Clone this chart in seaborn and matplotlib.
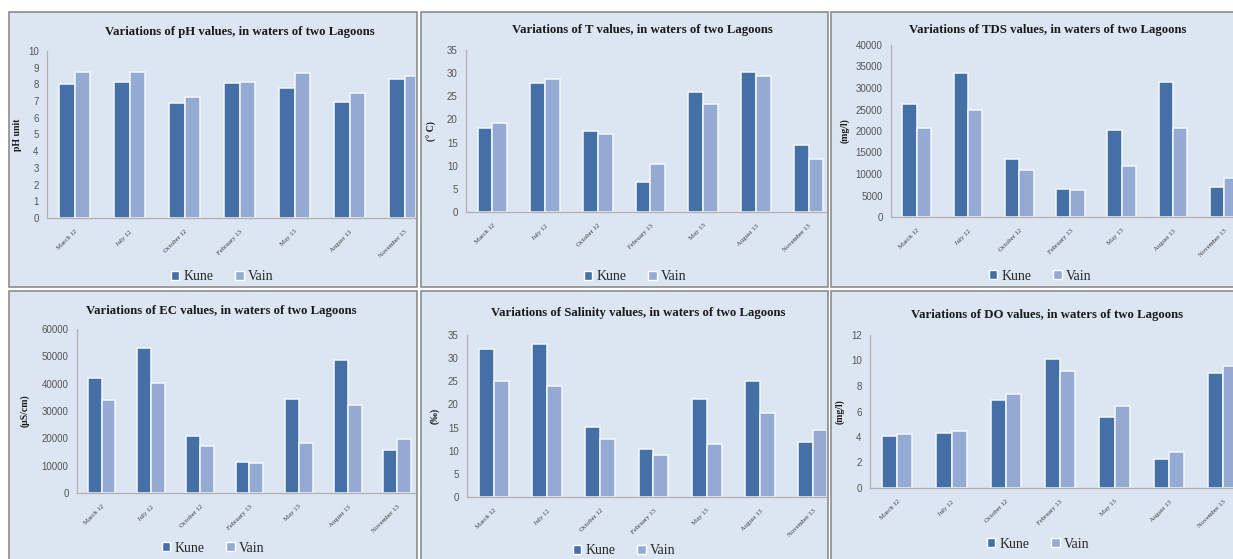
import numpy as np
import pandas as pd
import matplotlib
matplotlib.use("Agg")
import matplotlib.pyplot as plt
from matplotlib.patches import Rectangle, Patch
import seaborn as sns

sns.set_theme(style="white")
plt.rcParams['font.family'] = ['Liberation Serif', 'DejaVu Serif']

months = ["March 12", "July 12", "October 12", "February 13", "May 13", "August 13", "November 13"]
lagoons = ["Kune", "Vain"]

ph_kune = [8.05, 8.15, 6.9, 8.1, 7.8, 6.95, 8.3]
ph_vain = [8.75, 8.75, 7.25, 8.15, 8.7, 7.5, 8.5]
t_kune = [18.2, 27.8, 17.5, 6.5, 26.0, 30.2, 14.4]
t_vain = [19.3, 28.8, 16.8, 10.4, 23.3, 29.3, 11.5]
tds_kune = [26200, 33400, 13500, 6500, 20300, 31300, 6900]
tds_vain = [20700, 25000, 11000, 6300, 11800, 20600, 9000]
ec_kune = [42000, 53000, 21000, 11300, 34300, 48800, 15800]
ec_vain = [34000, 40300, 17300, 11100, 18400, 32200, 19700]
sal_kune = [32.0, 33.1, 15.1, 10.3, 21.2, 25.0, 11.8]
sal_vain = [25.0, 23.9, 12.5, 9.0, 11.4, 18.1, 14.4]
do_kune = [4.1, 4.35, 6.9, 10.15, 5.55, 2.3, 9.0]
do_vain = [4.2, 4.5, 7.4, 9.15, 6.45, 2.85, 9.6]

titles = ["Variations of pH values, in waters of two Lagoons",
          "Variations of T values, in waters of two Lagoons",
          "Variations of TDS values, in waters of two Lagoons",
          "Variations of EC values, in waters of two Lagoons",
          "Variations of Salinity values, in waters of two Lagoons",
          "Variations of DO values, in waters of two Lagoons"]
ylabels = ["pH unit", "(° C)", "(mg/l)", "(µS/cm)", "(‰)", "(mg/l)"]
yticks = [np.arange(0, 11, 1), np.arange(0, 36, 5), np.arange(0, 40001, 5000),
          np.arange(0, 60001, 10000), np.arange(0, 36, 5), np.arange(0, 13, 2)]
series = [(ph_kune, ph_vain), (t_kune, t_vain), (tds_kune, tds_vain),
          (ec_kune, ec_vain), (sal_kune, sal_vain), (do_kune, do_vain)]

W, H = 1233, 559
fig = plt.figure(figsize=(W / 100, H / 100), dpi=100)
fig.patch.set_facecolor("white")

BG = "#dce6f2"
KUNE = "#4470a5"
VAIN = "#94aad2"

# panel rectangles (pixel): x0, y0, x1, y1
panels = [(9, 12, 417, 287), (421, 12, 828, 287), (831, 12, 1240, 287),
          (9, 291, 417, 570), (421, 291, 828, 570), (831, 291, 1240, 570)]
# axes (pixel): left, top, right, zero-line y
axes_px = [(47, 51, 415, 218), (466, 50, 826, 212), (891, 45, 1233, 217),
           (77, 329, 415, 493), (467, 335, 826, 497), (870, 335, 1233, 488)]
xright = [6.19, 6.33, 6.17, 6.36, 6.24, 6.18]
title_xy = [(240, 32), (642, 30), (1048, 30), (221, 311), (638, 313), (1047, 315)]
ylabel_x = [17, 432, 845, 25, 435, 840]
legend_xy = [(222, 277), (635, 277), (1040, 276), (213, 548), (624, 551), (1038, 544)]

for i in range(6):
    x0, y0, x1, y1 = panels[i]
    fig.patches.append(Rectangle((x0 / W, 1 - y1 / H), (x1 - x0) / W, (y1 - y0) / H,
                                 transform=fig.transFigure, facecolor=BG,
                                 edgecolor="#8c8c8c", linewidth=1.2, zorder=-5))
    l, t, r, b = axes_px[i]
    ax = fig.add_axes([l / W, 1 - b / H, (r - l) / W, (b - t) / H])
    ax.set_facecolor("none")
    kune, vain = series[i]
    df = pd.DataFrame({"Month": months * 2,
                       "Lagoon": [lagoons[0]] * 7 + [lagoons[1]] * 7,
                       "Value": list(kune) + list(vain)})
    sns.barplot(data=df, x="Month", y="Value", hue="Lagoon", order=months,
                hue_order=lagoons, palette=[KUNE, VAIN], width=0.56,
                edgecolor="#f4f7fb", linewidth=1.1, saturation=1, ax=ax, legend=False)
    ax.set_xlim(-0.5, xright[i])
    ax.set_ylim(0, yticks[i][-1])
    ax.set_yticks(yticks[i])
    ax.set_yticklabels([str(v) for v in yticks[i]], family=['Liberation Sans', 'DejaVu Sans'],
                       fontsize=7, color="#555555")
    ax.set_xticks(range(7))
    ax.set_xticklabels(months, rotation=45, ha="right", rotation_mode="anchor",
                       fontsize=4.9, color="#3a3a3a")
    ax.tick_params(axis="both", length=0, pad=6)
    ax.tick_params(axis="x", pad=8)
    ax.set_xlabel("")
    ax.set_ylabel("")
    for s in ["top", "right"]:
        ax.spines[s].set_visible(False)
    for s in ["left", "bottom"]:
        ax.spines[s].set_color("#b0b0b0")
        ax.spines[s].set_linewidth(0.9)
    tx, ty = title_xy[i]
    fig.text(tx / W, 1 - ty / H, titles[i],
             ha="center", va="center", fontsize=9.2, fontweight="bold", color="#1a1a1a")
    fig.text(ylabel_x[i] / W, 1 - ((t + b) / 2) / H, ylabels[i], rotation=90,
             ha="center", va="center", fontsize=7, fontweight="bold", color="#1a1a1a")
    handles = [Patch(facecolor=KUNE, edgecolor="white", label="Kune"),
               Patch(facecolor=VAIN, edgecolor="white", label="Vain")]
    lx, ly = legend_xy[i]
    fig.legend(handles=handles, loc="center", bbox_to_anchor=(lx / W, 1 - ly / H),
               ncol=2, frameon=False, fontsize=10, handlelength=0.6, handleheight=0.6,
               handletextpad=0.3, columnspacing=1.6, borderpad=0)

fig.savefig("out.png", dpi=100, facecolor="white")
